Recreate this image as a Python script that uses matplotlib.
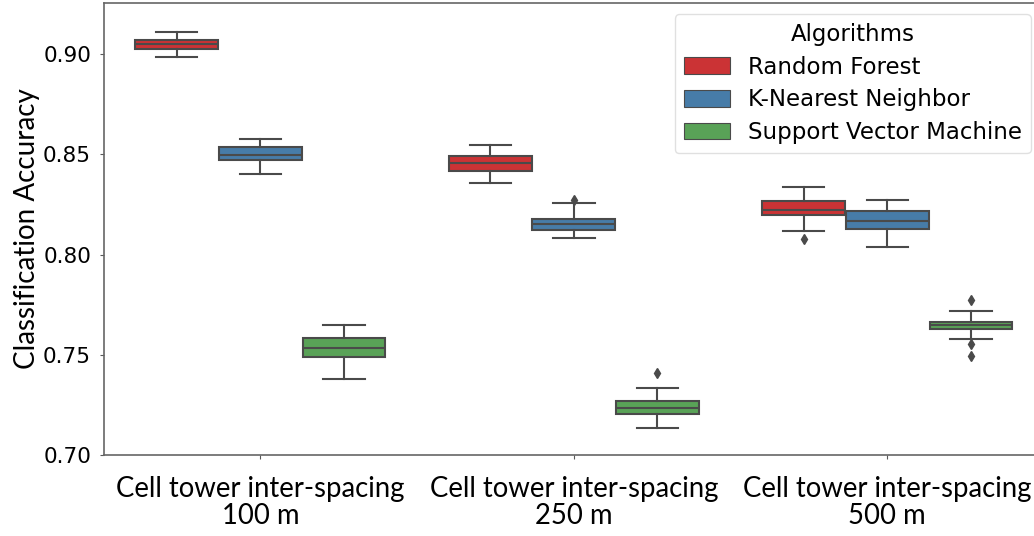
import matplotlib
matplotlib.use('Agg')
import matplotlib.pyplot as plt
from matplotlib.patches import Patch

# Groups along the x axis
groups = ['Cell tower inter-spacing\n100 m',
          'Cell tower inter-spacing\n250 m',
          'Cell tower inter-spacing\n500 m']
algorithms = ['Random Forest', 'K-Nearest Neighbor', 'Support Vector Machine']
colors = ['#cb3335', '#477ca8', '#59a257']

# Box statistics, one entry per group
rf_whislo = [0.8987, 0.8358, 0.8119]
rf_q1 = [0.9026, 0.8418, 0.8199]
rf_med = [0.9051, 0.8458, 0.8222]
rf_q3 = [0.9068, 0.8490, 0.8265]
rf_whishi = [0.9111, 0.8548, 0.8338]
rf_fliers = [[], [], [0.8079]]

knn_whislo = [0.8400, 0.8084, 0.8036]
knn_q1 = [0.8471, 0.8122, 0.8129]
knn_med = [0.8495, 0.8152, 0.8167]
knn_q3 = [0.8538, 0.8178, 0.8215]
knn_whishi = [0.8576, 0.8257, 0.8272]
knn_fliers = [[], [0.8270], []]

svm_whislo = [0.7380, 0.7133, 0.7577]
svm_q1 = [0.7487, 0.7203, 0.7628]
svm_med = [0.7535, 0.7234, 0.7648]
svm_q3 = [0.7584, 0.7269, 0.7665]
svm_whishi = [0.7648, 0.7334, 0.7720]
svm_fliers = [[], [0.7409], [0.7772, 0.7554, 0.7494]]

series = [
    (rf_whislo, rf_q1, rf_med, rf_q3, rf_whishi, rf_fliers),
    (knn_whislo, knn_q1, knn_med, knn_q3, knn_whishi, knn_fliers),
    (svm_whislo, svm_q1, svm_med, svm_q3, svm_whishi, svm_fliers),
]

line_gray = '#4a4a4a'
label_font = 'Lato'

fig = plt.figure(figsize=(10.34, 5.36), dpi=100)
ax = fig.add_axes([0.1002, 0.151, 0.9095, 0.8434])

n = len(algorithms)
box_w = 0.8 / n
for k, (lo, q1, med, q3, hi, fl) in enumerate(series):
    stats = []
    for g in range(len(groups)):
        stats.append(dict(whislo=lo[g], q1=q1[g], med=med[g], q3=q3[g],
                          whishi=hi[g], fliers=fl[g]))
    pos = [g - 0.4 + box_w * (k + 0.5) for g in range(len(groups))]
    ax.bxp(stats, positions=pos, widths=box_w * 0.99, patch_artist=True,
           manage_ticks=False,
           boxprops=dict(facecolor=colors[k], edgecolor=line_gray, linewidth=1.5),
           medianprops=dict(color=line_gray, linewidth=1.5),
           whiskerprops=dict(color=line_gray, linewidth=1.5),
           capprops=dict(color=line_gray, linewidth=1.5),
           flierprops=dict(marker='d', markerfacecolor=line_gray,
                           markeredgecolor=line_gray, markersize=5))

ax.set_xlim(-0.5, 2.5)
ax.set_ylim(0.70, 0.9254)
ax.set_yticks([0.70, 0.75, 0.80, 0.85, 0.90])
ax.set_yticklabels(['0.70', '0.75', '0.80', '0.85', '0.90'], fontsize=15.5)
ax.set_xticks(range(len(groups)))
ax.set_xticklabels(groups, fontsize=19.8, family=label_font, linespacing=1.05)
ax.tick_params(axis='both', length=3, color='0.35', pad=6)
ax.tick_params(axis='x', pad=12)
ax.set_ylabel('Classification Accuracy', fontsize=20, family=label_font, labelpad=2)
for sp in ax.spines.values():
    sp.set_color('0.4')
    sp.set_linewidth(1.2)

handles = [Patch(facecolor=c, edgecolor=line_gray, linewidth=0.8) for c in colors]
leg = ax.legend(handles, algorithms, title='Algorithms', loc='upper right',
                bbox_to_anchor=(0.9862, 0.9757), borderaxespad=0,
                fontsize=16.5, title_fontsize=16.5,
                handlelength=2.0, handleheight=0.75, handletextpad=0.8,
                labelspacing=0.42, borderpad=0.4, frameon=True, fancybox=True)
leg.get_frame().set_edgecolor('0.85')

fig.savefig('out.png', dpi=100)
